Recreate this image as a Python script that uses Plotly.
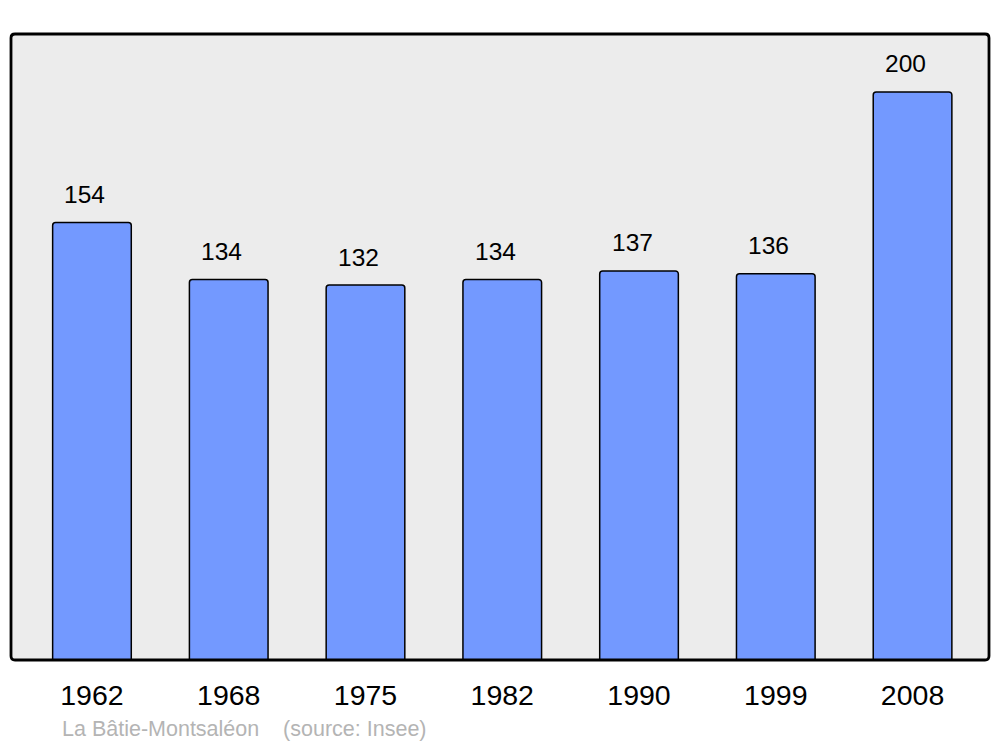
import plotly.graph_objects as go

years = ["1962", "1968", "1975", "1982", "1990", "1999", "2008"]
population = [154, 134, 132, 134, 137, 136, 200]
footer_text = "La Bâtie-Montsaléon    (source: Insee)"

FONT = "Liberation Sans, Arial, sans-serif"
PW, PH = 978, 626  # plot area in pixels

fig = go.Figure()
fig.add_trace(go.Bar(
    x=years, y=population,
    width=0.575,
    marker=dict(color="#7399ff", line=dict(color="black", width=1.5), cornerradius=3),
    hoverinfo="x+y",
))

for i, v in enumerate(population):
    fig.add_annotation(x=i, y=v, xref="x", yref="y", text=str(v), showarrow=False,
                       yshift=28, xshift=-7, font=dict(size=24.5, color="black", family=FONT))

fig.add_annotation(x=(61 - 11) / PW, y=-(729 - 660) / PH, xref="paper", yref="paper",
                   text=footer_text, showarrow=False, xanchor="left", yanchor="middle",
                   borderpad=0,
                   font=dict(size=21.5, color="#b4b4b4", family=FONT))

# rounded frame around the plot area
rx, ry = 4 / PW, 4 / PH
frame = (f"M {rx},0 L {1-rx},0 Q 1,0 1,{ry} L 1,{1-ry} Q 1,1 {1-rx},1 "
         f"L {rx},1 Q 0,1 0,{1-ry} L 0,{ry} Q 0,0 {rx},0 Z")
fig.add_shape(type="path", xref="paper", yref="paper", path=frame,
              line=dict(color="black", width=2.8), layer="above")

fig.update_layout(
    width=1000, height=747,
    margin=dict(l=11, r=11, t=34, b=87),
    paper_bgcolor="white", plot_bgcolor="#ececec",
    showlegend=False,
    font=dict(family=FONT),
    xaxis=dict(type="category", range=[-0.592, 6.559], showgrid=False, zeroline=False,
               showline=False, ticks="", tickfont=dict(size=28.5, color="black"),
               ticklabelstandoff=15),
    yaxis=dict(range=[0, 220.4], visible=False, showgrid=False),
)

fig.write_html("out.html", config={"displayModeBar": False},
               post_script="document.body.style.margin='0';document.body.style.overflow='hidden';")
